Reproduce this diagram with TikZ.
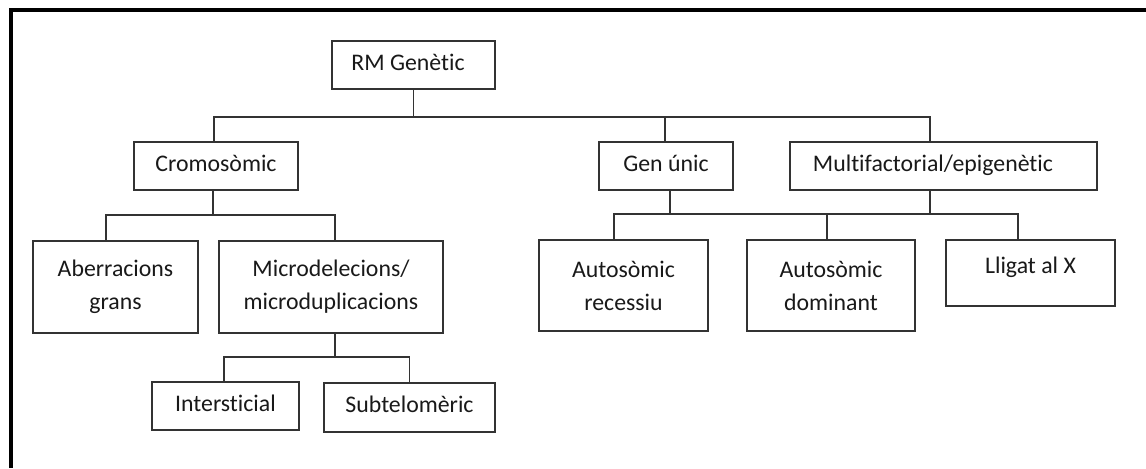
\documentclass[tikz,border=0pt]{standalone}
\usepackage{fontspec}
\setmainfont[Ligatures=NoCommon]{Carlito}
\begin{document}
\begin{tikzpicture}[x=0.75pt,y=-0.75pt,
  box/.style={draw=black!80, line width=1.4pt, inner sep=0pt, align=center,
    font=\fontsize{17.85pt}{24.75pt}\selectfont, text=black!90},
  one/.style={box, text height=0.9em, text depth=0.144em},
  conn/.style={draw=black!80, line width=1.4pt},
  frame/.style={draw=black, line width=3pt}]
\useasboundingbox[fill=white] (0,0) rectangle (1146,468);
\draw[frame] (10.5,468) -- (10.5,9.5) -- (1146,9.5);

% nodes
\node[one, minimum width=122.25pt, minimum height=36pt] (rm) at (413.5,65) {RM Genètic\hspace*{8.25pt}};
\node[one, minimum width=123pt, minimum height=36pt] (crom) at (216,166) {Cromosòmic};
\node[one, minimum width=100.5pt, minimum height=36pt] (gen) at (666,166) {Gen únic};
\node[one, minimum width=230.25pt, minimum height=36pt] (multi) at (943.5,166) {Multifactorial/epigenètic\hspace*{15.75pt}};
\node[box, minimum width=123.75pt, minimum height=69pt] (aberr) at (115.5,287) {Aberracions\\grans};
\node[box, minimum width=168pt, minimum height=69pt] (micro) at (331,287) {Microdelecions/\\microduplicacions};
\node[one, minimum width=110.25pt, minimum height=36pt] (inter) at (225.5,406) {Intersticial};
\node[one, minimum width=128.25pt, minimum height=36.75pt] (subt) at (409.5,407.5) {Subtelomèric};
\node[box, minimum width=126.75pt, minimum height=68.25pt] (arec) at (623.5,285.5) {Autosòmic\\recessiu};
\node[box, minimum width=126pt, minimum height=68.25pt] (adom) at (831,285.5) {Autosòmic\\dominant};
\node[box, text height=0.9em, text depth=0.82em, minimum width=126.75pt, minimum height=49.5pt] (lligat) at (1030.5,273) {Lligat al X};

% bus levels
\coordinate (h0) at (0,117);
\coordinate (h1) at (0,215);
\coordinate (h2) at (0,357);
\coordinate (h3) at (0,214);

% attachment points
\coordinate (cromN) at ([xshift=-1.5pt]crom.north);
\coordinate (cromS) at ([xshift=-2pt]crom.south);
\coordinate (multiN) at ([xshift=-10.125pt]multi.north);
\coordinate (multiS) at ([xshift=-10.125pt]multi.south);
\coordinate (genN) at ([xshift=-0.75pt]gen.north);
\coordinate (genS) at ([xshift=3pt]gen.south);
\coordinate (aberrN) at ([xshift=-7.125pt]aberr.north);
\coordinate (microN) at ([xshift=3pt]micro.north);
\coordinate (microS) at ([xshift=3pt]micro.south);
\coordinate (interN) at ([xshift=-1.125pt]inter.north);
\coordinate (arecN) at ([xshift=-7.125pt]arec.north);
\coordinate (adomN) at ([xshift=-3pt]adom.north);
\coordinate (lligatN) at ([xshift=-9.375pt]lligat.north);

% connectors
\draw[conn] (rm.south) -- (rm.south |- h0);
\draw[conn] (cromN) |- (multiN |- h0) -- (multiN);
\draw[conn] (genN) -- (genN |- h0);

\draw[conn] (cromS) -- (cromS |- h1);
\draw[conn] (aberrN) |- (microN |- h1) -- (microN);

\draw[conn] (microS) -- (microS |- h2);
\draw[conn] (interN) |- (subt.north |- h2) -- (subt.north);

\draw[conn] (genS) -- (genS |- h3);
\draw[conn] (multiS) -- (multiS |- h3);
\draw[conn] (arecN) |- (lligatN |- h3) -- (lligatN);
\draw[conn] (adomN) -- (adomN |- h3);
\end{tikzpicture}
\end{document}
